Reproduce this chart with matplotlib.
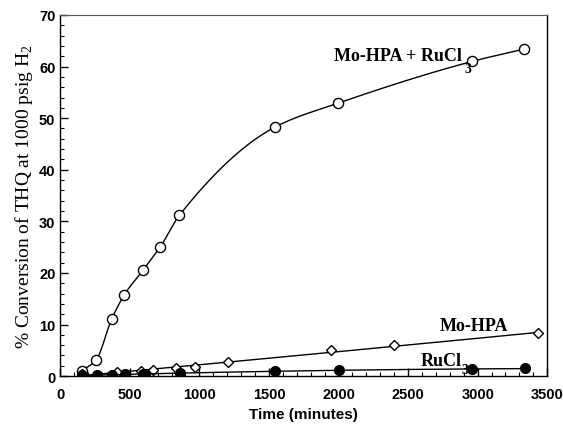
import numpy as np
import matplotlib
matplotlib.use("Agg")
import matplotlib.pyplot as plt
from matplotlib.ticker import MultipleLocator
from matplotlib.transforms import offset_copy

# Mo-HPA + RuCl3 (open circles)
t_mix = [154, 257, 369, 459, 597, 720, 857, 1546, 1997, 2961, 3336]
c_mix = [1.0, 3.1, 11.0, 15.7, 20.6, 25.1, 31.2, 48.3, 52.9, 61.0, 63.4]

# Mo-HPA (open diamonds)
t_hpa = [154, 406, 580, 670, 835, 965, 1205, 1949, 2397, 3436]
c_hpa = [0.5, 0.8, 1.0, 1.2, 1.6, 1.7, 2.7, 5.0, 6.0, 8.3]

# RuCl3 (filled circles)
t_ru = [154, 262, 369, 466, 597, 610, 862, 1546, 2001, 2961, 3341]
c_ru = [0.2, 0.2, 0.3, 0.4, 0.4, 0.2, 0.6, 1.0, 1.2, 1.3, 1.5]

plt.rcParams["mathtext.fontset"] = "custom"
plt.rcParams["mathtext.rm"] = "Liberation Serif"


def pchip(x, y, xs):
    # monotone cubic through the points, only used to smooth the drawn line
    x = np.asarray(x, float)
    y = np.asarray(y, float)
    h = np.diff(x)
    d = np.diff(y) / h
    m = np.zeros_like(y)
    for k in range(1, len(x) - 1):
        if d[k - 1] * d[k] > 0:
            w1 = 2 * h[k] + h[k - 1]
            w2 = h[k] + 2 * h[k - 1]
            m[k] = (w1 + w2) / (w1 / d[k - 1] + w2 / d[k])
    m[0] = d[0]
    m[-1] = d[-1]
    idx = np.clip(np.searchsorted(x, xs) - 1, 0, len(h) - 1)
    s = (xs - x[idx]) / h[idx]
    h00 = 2 * s**3 - 3 * s**2 + 1
    h10 = s**3 - 2 * s**2 + s
    h01 = -2 * s**3 + 3 * s**2
    h11 = s**3 - s**2
    return (h00 * y[idx] + h10 * h[idx] * m[idx]
            + h01 * y[idx + 1] + h11 * h[idx] * m[idx + 1])


fig = plt.figure(figsize=(5.63, 4.31), dpi=100)
ax = fig.add_axes([0.107, 0.125, 0.865, 0.838])

# smooth curve for the mixed catalyst
xs = np.linspace(t_mix[0], t_mix[-1], 400)
ax.plot(xs, pchip(t_mix, c_mix, xs), color="black", lw=1.0)
ax.plot(t_mix, c_mix, "o", ms=7.3, mfc="white", mec="black", mew=1.0)

# fitted lines for the two single catalysts
xh = np.linspace(t_hpa[0], t_hpa[-1], 200)
ax.plot(xh, np.polyval(np.polyfit(t_hpa, c_hpa, 2), xh), color="black", lw=1.0)
ax.plot(t_hpa, c_hpa, "D", ms=4.8, mfc="white", mec="black", mew=1.0)

xr = np.linspace(t_ru[0], t_ru[-1], 200)
ax.plot(xr, np.polyval(np.polyfit(t_ru, c_ru, 2), xr), color="black", lw=1.0)
ax.plot(t_ru, c_ru, "o", ms=7.0, mfc="black", mec="black")

serif = ["Liberation Serif", "DejaVu Serif"]
lbl = dict(family=serif, fontsize=13, fontweight="bold", ha="left",
           va="baseline", zorder=5)
t1 = ax.text(1965, 61.3, "Mo-HPA + RuCl", **lbl)
ax.text(2730, 9.0, "Mo-HPA", **lbl)
t2 = ax.text(2590, 2.2, "RuCl", **lbl)

# low subscripts after "RuCl", as in the original
fig.canvas.draw()
inv = ax.transData.inverted()
for t, dy in ((t1, -9), (t2, -6)):
    bb = t.get_window_extent()
    x_end = inv.transform((bb.x1, bb.y0))[0]
    tr = offset_copy(ax.transData, fig=fig, x=-1, y=dy, units="points")
    ax.text(x_end, t.get_position()[1], "3", family=serif, fontsize=10,
            fontweight="bold", ha="left", va="baseline", zorder=6,
            transform=tr, clip_on=False)

ax.set_xlim(0, 3500)
ax.set_ylim(0, 70)
ax.xaxis.set_major_locator(MultipleLocator(500))
ax.xaxis.set_minor_locator(MultipleLocator(100))
ax.yaxis.set_major_locator(MultipleLocator(10))
ax.yaxis.set_minor_locator(MultipleLocator(2))
ax.tick_params(which="both", direction="in", top=False, right=False)
ax.tick_params(which="major", length=6, width=1.0)
ax.tick_params(which="minor", length=3, width=0.8)
for lab in ax.get_xticklabels() + ax.get_yticklabels():
    lab.set_family(["Liberation Sans", "DejaVu Sans"])
    lab.set_fontweight("bold")
    lab.set_fontsize(10.5)
ax.tick_params(axis="x", pad=8)

for side in ["left", "bottom", "right"]:
    ax.spines[side].set_linewidth(1.0)
ax.spines["top"].set_linewidth(0.8)
ax.spines["top"].set_color("#555555")

ax.set_xlabel("Time (minutes)", family=["Liberation Sans", "DejaVu Sans"],
              fontweight="bold", fontsize=11, labelpad=4)
ax.set_ylabel("% Conversion of THQ at 1000 psig H$_2$", family=serif,
              fontsize=14, labelpad=3)

fig.savefig("out.png", dpi=100)
